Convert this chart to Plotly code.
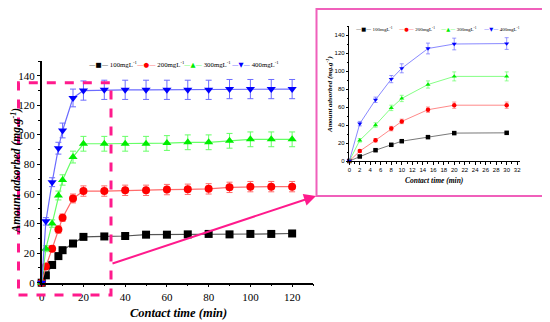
import plotly.graph_objects as go

# ---- data ----
t_main = [0, 2, 5, 8, 10, 15, 20, 30, 40, 50, 60, 70, 80, 90, 100, 110, 120]
q100 = [0, 5, 12, 18, 22, 26.5, 31, 31.3, 31.6, 32.5, 32.5, 32.7, 33, 32.7, 33, 33, 33.3]
q200 = [0, 11, 23, 36, 44, 57, 62, 62, 62.5, 62.5, 63, 63.2, 63.5, 64.5, 65, 65, 65]
q300 = [0, 23, 40, 59, 69.5, 85, 94, 94, 94, 94, 94.5, 95, 95, 96, 97, 97, 97]
q400 = [0, 41.5, 68, 91, 103, 125, 130, 130.5, 130.5, 130.5, 130.5, 130.5, 130.5, 131, 131, 131, 131]
e100 = [0, 1, 1, 1, 1, 1, 1, 1, 1, 1, 1, 1, 1, 1, 1, 1, 1]
e200 = [0, 1.5, 2, 2.5, 2.5, 3, 3.5, 3.5, 3.5, 3.5, 3.5, 3.5, 3.5, 3.5, 3.5, 3.5, 3.5]
e300 = [0, 2, 2.5, 3, 3.5, 4, 5, 5, 5, 5, 5, 5, 5, 5, 5, 5, 5]
e400 = [0, 2.5, 3, 4, 5, 6, 6.5, 6.5, 6.5, 6.5, 6.5, 6.5, 6.5, 6.5, 6.5, 6.5, 6.5]
labels = ["100mgL<sup>-1</sup>", "200mgL<sup>-1</sup>", "300mgL<sup>-1</sup>", "400mgL<sup>-1</sup>"]
x_title = "Contact time (min)"
y_title = "Amount adsorbed (mg.g<sup>-1</sup>)"
inset_max_t = 30

series = [
    (q100, e100, "#000000", "#555555", "square", "■"),
    (q200, e200, "#ff0000", "#ff6b6b", "circle", "●"),
    (q300, e300, "#00ee00", "#66ff66", "triangle-up", "▲"),
    (q400, e400, "#0000ff", "#6b6bff", "triangle-down", "▼"),
]

# page body has an 8px margin: lay the figure out in page pixels shifted by it
OFF = 8
W, H = 550 - OFF, 322 - OFF
def px(x): return (x - OFF) / W
def py(y): return 1 - (y - OFF) / H

fig = go.Figure()
n_in = sum(1 for t in t_main if t <= inset_max_t)
for (q, e, mc, lc, sym, g), lab in zip(series, labels):
    fig.add_trace(go.Scatter(
        x=t_main, y=q, name=lab, mode="lines+markers",
        line=dict(color=lc, width=1.2),
        marker=dict(symbol=sym, size=8, color=mc),
        error_y=dict(type="data", array=e, color=lc, thickness=1, width=3),
        cliponaxis=False, xaxis="x", yaxis="y", showlegend=False))
for (q, e, mc, lc, sym, g), lab in zip(series, labels):
    fig.add_trace(go.Scatter(
        x=t_main[:n_in], y=q[:n_in], name=lab, mode="lines+markers",
        line=dict(color=lc, width=0.8),
        marker=dict(symbol=sym, size=4.5, color=mc),
        error_y=dict(type="data", array=e[:n_in], color=lc, thickness=0.7, width=2),
        cliponaxis=False, xaxis="x2", yaxis="y2", showlegend=False))

serif = "Liberation Serif"
axis_common = dict(showline=True, linecolor="black", ticks="outside", automargin=False,
                   tickcolor="black", showgrid=False, zeroline=False)

fig.update_layout(
    width=W, height=H, margin=dict(l=0, r=0, t=0, b=0),
    paper_bgcolor="white", plot_bgcolor="rgba(0,0,0,0)",
    xaxis=dict(domain=[px(41.7), px(313)], range=[0, 130], tickvals=[0, 20, 40, 60, 80, 100, 120],
               linewidth=1.5, ticklen=3, tickwidth=1.2,
               minor=dict(dtick=10, ticks="outside", ticklen=2, tickcolor="black"),
               tickfont=dict(family=serif, size=11, color="black"), **axis_common),
    yaxis=dict(domain=[py(282.7), py(61)], range=[0, 150], tickvals=[0, 20, 40, 60, 80, 100, 120, 140],
               linewidth=1.5, ticklen=3, tickwidth=1.2,
               minor=dict(dtick=10, ticks="outside", ticklen=2, tickcolor="black"),
               tickfont=dict(family=serif, size=11, color="black"), **axis_common),
    xaxis2=dict(domain=[px(349.3), px(519.8)], range=[0, 32.5], anchor="y2",
                tickvals=list(range(0, 33, 2)), linewidth=1, ticklen=2.5, tickwidth=0.8,
                minor=dict(dtick=1, ticks="outside", ticklen=1.5, tickcolor="black"),
                tickfont=dict(family="Liberation Sans", size=6, color="black"), **axis_common),
    yaxis2=dict(domain=[py(161), py(26)], range=[0, 150], anchor="x2",
                tickvals=[0, 20, 40, 60, 80, 100, 120, 140], linewidth=1, ticklen=2.5, tickwidth=0.8,
                minor=dict(dtick=10, ticks="outside", ticklen=1.5, tickcolor="black"),
                tickfont=dict(family="Liberation Sans", size=6, color="black"), **axis_common),
    showlegend=False,
)

def title_ann(text, x, y, size, angle=0):
    fig.add_annotation(x=px(x), y=py(y), xref="paper", yref="paper",
                       text=f"<b><i>{text}</i></b>", showarrow=False, textangle=angle,
                       xanchor="center", yanchor="middle",
                       font=dict(family=serif, size=size, color="black"))

title_ann(x_title, 178, 313, 12.5)
title_ann(y_title, 15.5, 171, 11.5, -90)
title_ann(x_title, 434, 180.5, 7.5)
title_ann(y_title, 330, 94, 7, -90)

# legends drawn as text entries (line-marker-line glyphs + label)
def legend_entry(x0, yc, glyph, mc, lc, lab, gsize, tsize):
    txt = (f'<span style="color:{lc}">—</span><span style="color:{mc}">{glyph}</span>'
           f'<span style="color:{lc}">—</span>'
           f'<span style="font-family:{serif};font-size:{tsize}px;color:black"> {lab}</span>')
    fig.add_annotation(x=px(x0), y=py(yc), xref="paper", yref="paper", text=txt,
                       showarrow=False, xanchor="left", yanchor="middle",
                       font=dict(family="DejaVu Sans", size=gsize, color="black"))

for i, ((q, e, mc, lc, sym, g), lab) in enumerate(zip(series, labels)):
    legend_entry(87 + i * 47.5, 65, g, mc, lc, lab, 6.5, 6.8)
    legend_entry(354 + i * 42.5, 28.5, g, mc, lc, lab, 5.2, 5)

pink = "#ff1a8c"
fig.add_shape(type="rect", xref="paper", yref="paper",
              x0=px(18.5), x1=px(111), y0=py(295), y1=py(82.7),
              line=dict(color=pink, width=3, dash="dash"))
fig.add_shape(type="rect", xref="paper", yref="paper",
              x0=px(316.5), x1=px(543), y0=py(196), y1=py(9),
              line=dict(color="#f060bb", width=2), layer="below")
fig.add_annotation(x=px(316), y=py(196), ax=111 - 316, ay=264 - 196,
                   xref="paper", yref="paper",
                   text="", showarrow=True, arrowhead=2, arrowsize=1.2,
                   arrowwidth=2, arrowcolor=pink)

fig.write_html("out.html")
